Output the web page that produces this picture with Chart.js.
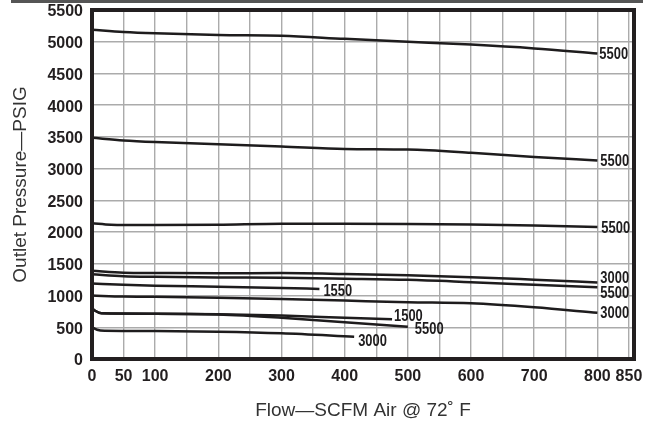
<!DOCTYPE html>
<html>
<head>
<meta charset="utf-8">
<script src="https://cdn.jsdelivr.net/npm/chart.js@4.4.1/dist/chart.umd.min.js"></script>
<style>
  html, body { margin: 0; padding: 0; background: #fff; }
  #wrap { position: relative; width: 652px; height: 426px; }
  #rule { position: absolute; left: 11px; top: 0; width: 632px; height: 3px; background: #555; }
</style>
</head>
<body>
<div id="wrap">
  <canvas id="chart" width="652" height="426"></canvas>
  <div id="rule"></div>
</div>
<script>
// ============================================================
// DATA
// ============================================================
const flowGrid = [0, 50, 100, 150, 200, 250, 300, 350, 400, 450, 500, 550, 600, 650, 700, 750, 800, 850];
const flowTickLabels = [0, 50, 100, 200, 300, 400, 500, 600, 700, 800, 850];
const pressureTicks = [0, 500, 1000, 1500, 2000, 2500, 3000, 3500, 4000, 4500, 5000, 5500];

const flowMain = [0, 50, 100, 200, 300, 400, 500, 600, 700, 800];
const flowFlat = [0, 30, 50, 100, 200, 300, 400, 500, 600, 700, 800];
const flow1550 = [0, 50, 100, 200, 300, 360];
const flow1500 = [0, 5, 15, 100, 200, 300, 400, 475];
const flow5500low = [0, 5, 15, 100, 200, 300, 400, 500];
const flow3000low = [0, 8, 20, 100, 200, 300, 415];

const pressTop5500 = [5190, 5155, 5133, 5105, 5093, 5045, 5000, 4955, 4895, 4815];
const pressMid5500 = [3485, 3445, 3420, 3385, 3350, 3310, 3300, 3250, 3185, 3130];
const pressFlat5500 = [2140, 2115, 2110, 2110, 2115, 2130, 2130, 2128, 2120, 2105, 2080];
const pressUpper3000 = [1390, 1360, 1355, 1350, 1355, 1340, 1318, 1290, 1250, 1207];
const pressUpper5500 = [1335, 1305, 1295, 1285, 1280, 1265, 1247, 1210, 1170, 1130];
const press1550 = [1190, 1170, 1155, 1140, 1120, 1105];
const pressLower3000 = [1000, 985, 980, 965, 945, 920, 895, 878, 815, 728];
const press1500 = [800, 760, 720, 715, 705, 685, 650, 625];
const pressLow5500 = [800, 760, 720, 715, 702, 650, 580, 510];
const pressLowest3000 = [500, 460, 445, 440, 430, 405, 350];

const curveNames = ['5500', '5500', '5500', '3000', '5500', '1550', '3000', '1500', '5500', '3000'];

// ============================================================
// BUILD DATASETS
// ============================================================
const curves = [
  [flowMain, pressTop5500],
  [flowMain, pressMid5500],
  [flowFlat, pressFlat5500],
  [flowMain, pressUpper3000],
  [flowMain, pressUpper5500],
  [flow1550, press1550],
  [flowMain, pressLower3000],
  [flow1500, press1500],
  [flow5500low, pressLow5500],
  [flow3000low, pressLowest3000]
];

// where each end label sits relative to the curve's last point
const labelOffsets = [
  [2, 1], [3, 1], [4, 1], [3, -4], [3, 6], [4, 2], [3, 1], [2, -3], [7, 3], [4, 5]
];

const datasets = curves.map(([xs, ys], i) => ({
  label: curveNames[i],
  data: xs.map((x, j) => ({ x, y: ys[j] })),
  borderColor: '#1e1c1d',
  borderWidth: 2.5,
  pointRadius: 0,
  fill: false,
  cubicInterpolationMode: 'monotone',
  tension: 0.4
}));

const TICK_FONT = { family: '"Liberation Sans", Arial, sans-serif', size: 16, weight: 'bold' };
const TITLE_FONT = { family: '"Liberation Sans", Arial, sans-serif', size: 19, weight: 'normal' };
const CURVE_FONT = 'bold 17px "Liberation Sans", Arial, sans-serif';
const CURVE_SQUEEZE = 0.76; // fake a condensed face

// ============================================================
// PLUGINS
// ============================================================
const curveLabelPlugin = {
  id: 'curveLabels',
  afterDatasetsDraw(chart) {
    const ctx = chart.ctx;
    chart.data.datasets.forEach((ds, i) => {
      const pts = chart.getDatasetMeta(i).data;
      const last = pts[pts.length - 1];
      const [dx, dy] = labelOffsets[i];
      ctx.save();
      ctx.font = CURVE_FONT;
      ctx.fillStyle = '#1e1c1d';
      ctx.textAlign = 'left';
      ctx.textBaseline = 'middle';
      ctx.translate(last.x + dx, last.y + dy);
      ctx.scale(CURVE_SQUEEZE, 1);
      ctx.fillText(ds.label, 0, 0);
      ctx.restore();
    });
  }
};

const framePlugin = {
  id: 'frame',
  afterDraw(chart) {
    const { ctx, chartArea: a } = chart;
    ctx.save();
    ctx.strokeStyle = '#231f20';
    ctx.lineWidth = 4;
    ctx.strokeRect(a.left, a.top, a.right - a.left, a.bottom - a.top);
    ctx.restore();
  }
};

// ============================================================
// CHART
// ============================================================
new Chart(document.getElementById('chart'), {
  type: 'line',
  data: { datasets },
  plugins: [curveLabelPlugin, framePlugin],
  options: {
    responsive: false,
    animation: false,
    layout: { padding: { top: 10, right: 18, left: 0, bottom: 0 } },
    plugins: { legend: { display: false }, tooltip: { enabled: false } },
    scales: {
      x: {
        type: 'linear',
        min: 0,
        max: 858,
        afterBuildTicks: (scale) => { scale.ticks = flowGrid.map(v => ({ value: v })); },
        afterFit: (scale) => {
          scale.height = 67;
          scale.paddingLeft = 0;
          scale.paddingRight = 0;
        },
        ticks: {
          autoSkip: false,
          maxRotation: 0,
          padding: 8,
          color: '#231f20',
          font: TICK_FONT,
          callback: (v) => flowTickLabels.includes(v) ? String(v) : ''
        },
        grid: { color: '#ababab', lineWidth: 1.4, drawTicks: false },
        border: { display: false },
        title: {
          display: true,
          text: 'Flow—SCFM Air @ 72˚ F',
          color: '#333',
          font: TITLE_FONT,
          padding: { top: 0, bottom: 4 }
        }
      },
      y: {
        type: 'linear',
        min: 0,
        max: 5500,
        afterBuildTicks: (scale) => { scale.ticks = pressureTicks.map(v => ({ value: v })); },
        afterFit: (scale) => {
          scale.width = 92;
          scale.paddingTop = 0;
          scale.paddingBottom = 0;
        },
        ticks: {
          padding: 9,
          labelOffset: 2,
          color: '#231f20',
          font: TICK_FONT,
          callback: (v) => String(v)
        },
        grid: { color: '#ababab', lineWidth: 1.4, drawTicks: false },
        border: { display: false },
        title: {
          display: true,
          text: 'Outlet Pressure—PSIG',
          color: '#333',
          font: TITLE_FONT,
          padding: { top: 9, bottom: 0 }
        }
      }
    }
  }
});
</script>
</body>
</html>
